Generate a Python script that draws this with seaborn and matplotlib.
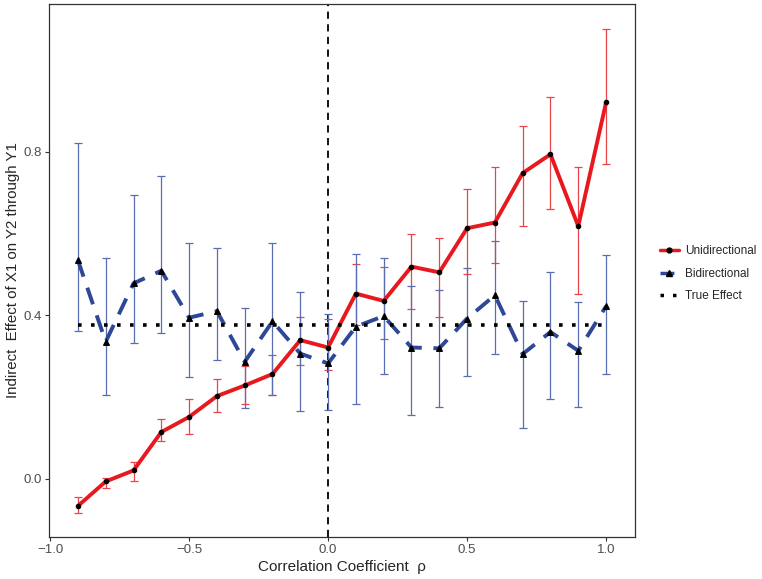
import numpy as np
import pandas as pd
import seaborn as sns
import matplotlib
matplotlib.use("Agg")
import matplotlib.pyplot as plt
from matplotlib.lines import Line2D

# korelasyon katsayilari
rho = [-0.9, -0.8, -0.7, -0.6, -0.5, -0.4, -0.3, -0.2, -0.1, 0.0,
       0.1, 0.2, 0.3, 0.4, 0.5, 0.6, 0.7, 0.8, 0.9, 1.0]

# Unidirectional
uni_est = [-0.067, -0.007, 0.020, 0.114, 0.151, 0.202, 0.228, 0.256, 0.339, 0.321,
           0.453, 0.435, 0.519, 0.505, 0.613, 0.627, 0.748, 0.794, 0.618, 0.921]
uni_low = [-0.085, -0.022, -0.005, 0.091, 0.110, 0.163, 0.182, 0.204, 0.278, 0.267,
           0.375, 0.341, 0.415, 0.395, 0.501, 0.528, 0.619, 0.661, 0.453, 0.770]
uni_high = [-0.046, 0.002, 0.041, 0.147, 0.194, 0.243, 0.275, 0.302, 0.395, 0.390,
            0.525, 0.519, 0.600, 0.589, 0.709, 0.762, 0.864, 0.934, 0.764, 1.102]

# Bidirectional
bi_est = [0.535, 0.335, 0.478, 0.509, 0.394, 0.410, 0.286, 0.385, 0.306, 0.282,
          0.372, 0.398, 0.321, 0.319, 0.392, 0.449, 0.305, 0.359, 0.313, 0.422]
bi_low = [0.361, 0.204, 0.333, 0.357, 0.250, 0.291, 0.172, 0.205, 0.165, 0.167,
          0.182, 0.257, 0.155, 0.176, 0.251, 0.306, 0.125, 0.196, 0.176, 0.255]
bi_high = [0.821, 0.541, 0.695, 0.742, 0.576, 0.564, 0.417, 0.577, 0.456, 0.402,
           0.550, 0.541, 0.471, 0.462, 0.515, 0.582, 0.435, 0.505, 0.433, 0.547]

true_effect = 0.376

red = "#e8191e"
red_err = "#e8454a"
blue = "#2e4797"
blue_err = "#5a6db0"

df = pd.DataFrame({
    "rho": rho * 2,
    "est": uni_est + bi_est,
    "low": uni_low + bi_low,
    "high": uni_high + bi_high,
    "model": ["Unidirectional"] * len(rho) + ["Bidirectional"] * len(rho),
})

sns.set_style("white")
plt.rcParams["font.family"] = ["Liberation Sans", "DejaVu Sans"]

fig = plt.figure(figsize=(7.62, 5.79), dpi=100)
ax = fig.add_axes([0.0643, 0.0725, 0.769, 0.9206])

# hata cubuklari
for m, c in [("Unidirectional", red_err), ("Bidirectional", blue_err)]:
    d = df[df["model"] == m]
    ax.errorbar(d["rho"], d["est"],
                yerr=[d["est"] - d["low"], d["high"] - d["est"]],
                fmt="none", ecolor=c, elinewidth=0.9, capsize=3, capthick=0.9, zorder=2)

ax.axvline(0, color="black", linestyle=(0, (4, 3)), linewidth=1.3, zorder=1)

sns.lineplot(data=df[df["model"] == "Unidirectional"], x="rho", y="est",
             color=red, linewidth=2.8, ax=ax, zorder=3, legend=False)
sns.lineplot(data=df[df["model"] == "Bidirectional"], x="rho", y="est",
             color=blue, linewidth=2.8, ax=ax, zorder=4, legend=False)
ax.lines[-1].set_dashes((4.5, 3))

ax.scatter(rho, uni_est, marker="o", s=9, color="black", zorder=5)
ax.scatter(rho, bi_est, marker="^", s=16, color="black", zorder=5)

ax.plot([rho[0], rho[-1]], [true_effect, true_effect], color="black",
        linestyle=(0, (1, 2.6)), linewidth=2.6, zorder=4)

ax.set_xlim(-1.004, 1.104)
ax.set_ylim(-0.143, 1.162)
ax.set_xticks([-1.0, -0.5, 0.0, 0.5, 1.0])
ax.set_xticklabels(["\u22121.0", "\u22120.5", "0.0", "0.5", "1.0"])
ax.set_yticks([0.0, 0.4, 0.8])
ax.set_yticklabels(["0.0", "0.4", "0.8"])
ax.tick_params(axis="both", length=3, width=0.8, color="#333333",
               labelcolor="#4d4d4d", labelsize=9.5, pad=2, direction="out",
               bottom=True, left=True)
for s in ax.spines.values():
    s.set_color("#333333")
    s.set_linewidth(0.9)

ax.set_xlabel("Correlation Coefficient  \u03c1", fontsize=11, labelpad=3)
ax.set_ylabel("Indirect  Effect of X1 on Y2 through Y1", fontsize=10.8, labelpad=3)

handles = [
    Line2D([], [], color=red, linewidth=2.5, marker="o", markersize=3.5,
           markerfacecolor="black", markeredgecolor="black"),
    Line2D([], [], color=blue, linewidth=2.5, dashes=(4, 3), marker="^", markersize=4.5,
           markerfacecolor="black", markeredgecolor="black"),
    Line2D([], [], color="black", linewidth=2.5, linestyle=(0, (1, 2.6))),
]
fig.legend(handles, ["Unidirectional", "Bidirectional", "True Effect"],
           loc="center left", bbox_to_anchor=(0.852, 0.527), frameon=False,
           fontsize=8.5, handlelength=1.6, handletextpad=0.5, labelspacing=0.9)

fig.savefig("out.png", dpi=100)
